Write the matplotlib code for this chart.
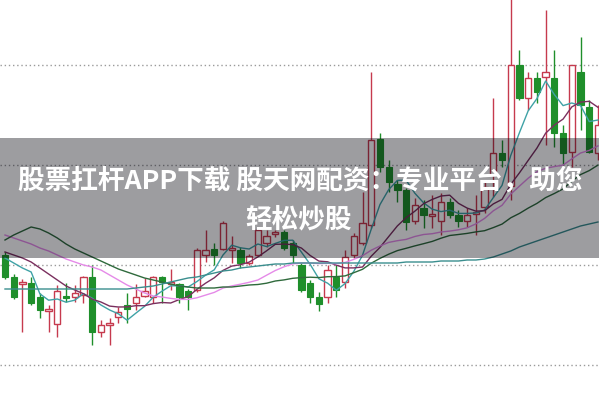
import matplotlib
matplotlib.use("Agg")
import matplotlib.pyplot as plt
from matplotlib.patches import Rectangle

# ---- data ----
opens = [16.0, 13.8, 13.1, 13.2, 11.8, 10.4, 9.1, 11.9, 11.8, 12.0,
         13.8, 8.3, 9.0, 9.8, 11.0, 11.2, 11.9, 11.8, 13.8, 13.1,
         13.1, 12.4, 12.5, 16.0, 16.6, 16.6, 16.5, 16.5, 15.2, 16.0,
         17.2, 18.1, 18.3, 17.2, 15.0, 13.2, 11.8, 11.8, 13.8, 13.3,
         16.0, 17.2, 19.0, 27.6, 24.8, 23.1, 22.5, 19.4, 20.7, 19.9,
         19.4, 21.3, 20.0, 19.4, 20.1, 20.8, 24.0, 26.2, 22.9, 35.0,
         31.7, 33.7, 33.8, 33.7, 28.2, 26.3, 34.3, 30.8, 26.2]
highs = [16.3, 14.1, 13.6, 13.8, 12.2, 11.0, 13.0, 13.2, 13.0, 13.9,
         15.0, 9.5, 9.7, 10.8, 12.2, 13.1, 13.7, 13.9, 13.9, 14.6,
         13.2, 12.6, 16.7, 18.5, 17.2, 19.4, 17.9, 16.8, 16.1, 18.8,
         18.5, 18.5, 18.5, 17.5, 15.2, 13.5, 12.3, 15.0, 15.0, 16.5,
         18.2, 22.3, 34.3, 28.2, 25.5, 23.5, 22.7, 21.7, 21.5, 22.0,
         22.2, 21.7, 20.5, 20.7, 22.0, 23.3, 31.7, 27.5, 42.0, 36.5,
         34.3, 34.3, 40.5, 36.5, 29.0, 35.0, 37.8, 31.5, 31.0]
lows = [13.6, 11.6, 8.3, 11.0, 9.7, 8.3, 7.8, 11.3, 11.3, 11.2,
        7.0, 7.8, 7.0, 9.2, 9.2, 10.5, 11.8, 11.2, 11.2, 12.5,
        11.2, 10.5, 12.3, 15.3, 15.0, 16.5, 15.2, 14.7, 15.0, 15.9,
        16.8, 17.8, 16.5, 15.2, 12.3, 11.2, 10.4, 11.2, 11.8, 12.7,
        15.7, 17.0, 18.7, 24.3, 22.3, 21.3, 18.5, 19.1, 18.7, 18.7,
        18.0, 19.7, 18.8, 18.8, 18.0, 20.2, 21.8, 24.8, 21.5, 31.5,
        30.5, 31.2, 27.0, 26.8, 25.0, 24.8, 28.5, 26.2, 25.5]
closes = [13.8, 11.8, 13.3, 11.2, 10.5, 10.6, 12.4, 11.7, 12.2, 13.8,
          8.3, 9.0, 9.2, 10.3, 10.6, 11.8, 12.4, 13.8, 13.3, 13.3,
          11.8, 11.8, 16.5, 16.5, 16.0, 19.2, 16.7, 15.2, 15.9, 18.5,
          17.9, 18.3, 16.7, 16.0, 12.5, 11.8, 11.1, 14.5, 12.5, 15.8,
          17.9, 19.2, 27.5, 24.8, 23.3, 22.5, 19.3, 21.0, 20.0, 20.1,
          21.3, 20.0, 19.4, 20.0, 20.3, 22.8, 26.2, 25.5, 35.0, 31.7,
          33.7, 32.3, 34.3, 28.2, 26.2, 35.0, 31.0, 26.3, 29.0]

ma5 = [15.7, 15.2, 14.7, 14.3, 12.12, 11.48, 11.6, 11.28, 11.48, 12.14,
       11.68, 11.0, 10.5, 10.12, 9.48, 10.18, 10.86, 11.78, 12.38, 12.92,
       12.92, 12.8, 13.34, 13.98, 14.52, 16.0, 16.98, 16.72, 16.6, 17.1,
       16.84, 17.16, 17.46, 17.48, 16.28, 15.06, 13.62, 13.18, 12.48, 13.14,
       14.36, 15.98, 18.58, 21.04, 22.54, 23.46, 23.48, 22.18, 21.22, 20.58,
       20.34, 20.48, 20.16, 20.16, 20.2, 20.5, 21.74, 22.96, 25.96, 28.24,
       30.42, 31.64, 33.4, 32.04, 30.94, 31.2, 30.94, 29.34, 29.5]
ma10 = [16.3, 16.0, 15.7, 15.3, 14.7, 14.1, 13.5, 12.9, 12.5, 12.13,
        11.58, 11.3, 10.89, 10.8, 10.81, 10.93, 10.93, 11.14, 11.25, 11.2,
        11.55, 11.83, 12.56, 13.18, 13.72, 14.46, 14.89, 15.03, 15.29, 15.81,
        16.42, 17.07, 17.09, 17.04, 16.69, 15.95, 15.39, 15.32, 14.98, 14.71,
        14.71, 14.8, 15.88, 16.76, 17.84, 18.91, 19.73, 20.38, 21.13, 21.56,
        21.9, 21.98, 21.17, 20.69, 20.39, 20.42, 21.11, 21.56, 23.06, 24.22,
        25.46, 26.69, 28.18, 29.0, 29.59, 30.81, 31.29, 31.37, 30.77]
ma20 = [18.0, 17.7, 17.4, 17.1, 16.7, 16.4, 16.0, 15.6, 15.3, 15.0,
        14.8, 14.5, 14.0, 13.5, 13.0, 12.6, 12.2, 11.9, 11.8, 11.66,
        11.56, 11.56, 11.72, 11.99, 12.26, 12.69, 12.91, 13.08, 13.27, 13.5,
        13.98, 14.45, 14.82, 15.11, 15.2, 15.2, 15.14, 15.17, 15.13, 15.26,
        15.56, 15.93, 16.48, 16.9, 17.26, 17.43, 17.56, 17.85, 18.05, 18.13,
        18.3, 18.39, 18.52, 18.72, 19.11, 19.66, 20.42, 20.97, 22.09, 22.89,
        23.68, 24.33, 24.67, 24.84, 24.99, 25.61, 26.2, 26.46, 26.91]
ma30 = [17.5, 18.0, 18.4, 18.8, 18.6, 18.2, 17.7, 17.1, 16.6, 16.2,
        15.8, 15.4, 15.0, 14.6, 14.3, 14.0, 13.7, 13.5, 13.3, 13.1,
        12.9, 12.8, 12.7, 12.7, 12.7, 12.8, 12.8, 12.9, 13.0, 13.05,
        13.18, 13.4, 13.51, 13.67, 13.74, 13.78, 13.74, 13.83, 13.84, 13.91,
        14.23, 14.57, 15.18, 15.66, 16.08, 16.44, 16.67, 16.91, 17.13, 17.36,
        17.68, 17.95, 18.05, 18.16, 18.31, 18.43, 18.74, 19.09, 19.72, 20.16,
        20.69, 21.16, 21.74, 22.15, 22.61, 23.38, 24.04, 24.44, 24.99]
ma60 = [12.6, 12.6, 12.6, 12.6, 12.6, 12.6, 12.6, 12.6, 12.6, 12.6,
        12.6, 12.6, 12.6, 12.6, 12.6, 12.7, 12.8, 12.9, 13.1, 13.3,
        13.5, 13.7, 13.8, 14.0, 14.2, 14.4, 14.5, 14.7, 14.8, 14.9,
        15.0, 15.1, 15.1, 15.2, 15.2, 15.2, 15.2, 15.2, 15.2, 15.2,
        15.2, 15.2, 15.2, 15.2, 15.2, 15.2, 15.3, 15.3, 15.3, 15.3,
        15.4, 15.4, 15.4, 15.5, 15.5, 15.6, 15.8, 16.1, 16.4, 16.8,
        17.1, 17.4, 17.7, 18.0, 18.3, 18.6, 18.9, 19.1, 19.3]

grid_levels = [5, 15, 25, 35]
title_line1 = "股票扛杆APP下载 股天网配资：专业平台，助您"
title_line2 = "轻松炒股"

# ---- styles ----
RED = "#c63a4e"
GREEN = "#1f8f2b"
ma_styles = [(ma5, "#3fa2a6"), (ma10, "#7a2f5e"), (ma20, "#e58ae8"),
             (ma30, "#2f6a3c"), (ma60, "#3a8e8e")]

fig = plt.figure(figsize=(5.99, 3.99), dpi=100)
ax = fig.add_axes([0, 0, 1, 1])
ax.set_facecolor("white")
ax.set_xlim(-0.573, 68.12)
ax.set_ylim(1.6, 41.5)
ax.axis("off")

for g in grid_levels:
    ax.axhline(g, color="#9a9a9a", lw=1.0, ls=(0, (1, 2)), zorder=1)

w = 0.72
for i, (o, h, l, c) in enumerate(zip(opens, highs, lows, closes)):
    top, bot = max(o, c), min(o, c)
    if c >= o:
        col = RED
        ax.vlines(i, top, h, color=col, lw=1.0, zorder=3)
        ax.vlines(i, l, bot, color=col, lw=1.0, zorder=3)
        ax.add_patch(Rectangle((i - w / 2, bot), w, max(top - bot, 0.12),
                               facecolor="white", edgecolor=col, lw=1.0, zorder=3))
    else:
        col = GREEN
        ax.vlines(i, l, h, color=col, lw=1.0, zorder=3)
        ax.add_patch(Rectangle((i - w / 2, bot), w, max(top - bot, 0.12),
                               facecolor=col, edgecolor=col, lw=0.8, zorder=3))

xs = list(range(len(closes)))
for vals, col in ma_styles:
    ax.plot(xs, vals, color=col, lw=1.0, zorder=4)

# grey banner overlay
fig.patches.append(Rectangle((0, 1 - 258 / 399), 1, 120 / 399, transform=fig.transFigure,
                             facecolor="#00000a", alpha=0.385, edgecolor="none", zorder=10))

fam = ["Noto Sans CJK SC", "DejaVu Sans"]
fig.text(0.502, 1 - 181 / 399, title_line1, ha="center", va="center", color="white",
         fontsize=19.2, fontweight="bold", family=fam, zorder=11)
fig.text(0.498, 1 - 220 / 399, title_line2, ha="center", va="center", color="white",
         fontsize=19.2, fontweight="bold", family=fam, zorder=11)

fig.savefig("out.png", dpi=100)
